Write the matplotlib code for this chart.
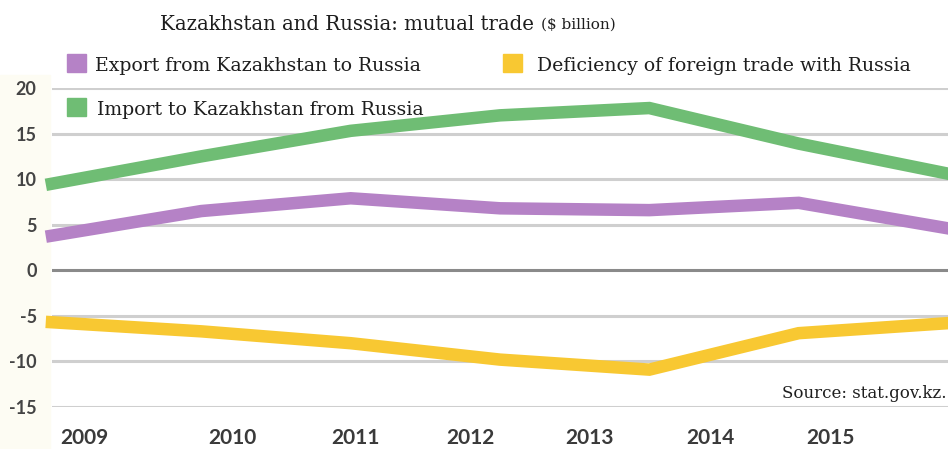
import matplotlib.pyplot as plt
from matplotlib.patches import Rectangle

# mutual trade, $ billion
years = ['2009', '2010', '2011', '2012', '2013', '2014', '2015']
export_to_russia = [3.8, 6.5, 7.9, 6.8, 6.6, 7.4, 4.6]
import_from_russia = [9.5, 12.5, 15.3, 17.0, 17.8, 13.9, 10.6]
trade_deficit = [-5.7, -6.7, -8.0, -9.8, -10.9, -6.9, -5.8]

# where the year labels sit along the x axis (data units)
label_pos = [0.22, 1.21, 2.03, 2.80, 3.60, 4.41, 5.21]

green = '#6fbd74'
purple = '#b582c6'
yellow = '#f8c832'

W, H = 948, 449
fig = plt.figure(figsize=(W / 100, H / 100), dpi=100)
fig.patch.set_facecolor('white')

# cream strip behind the y labels
fig.patches.append(Rectangle((0, 0), 50 / W, 1 - 75 / H, transform=fig.transFigure,
                             color='#fdfcf3', zorder=-5))

x0, x1 = 52, 948
ytop, ybot = 88, 407
ax = fig.add_axes([x0 / W, 1 - ybot / H, (x1 - x0) / W, (ybot - ytop) / H])
ax.set_zorder(2)
ax.set_facecolor('none')
ax.set_xlim(0, len(years) - 1)
ax.set_ylim(-15, 20)

for v in range(-15, 21, 5):
    c = '#8a8a8a' if v == 0 else '#cfcfcf'
    ax.axhline(v, color=c, lw=2.2, zorder=1)

xs = range(len(years))
lw = 9
ax.plot(xs, import_from_russia, color=green, lw=lw, solid_joinstyle='miter', clip_on=False, zorder=3)
ax.plot(xs, export_to_russia, color=purple, lw=lw, solid_joinstyle='miter', clip_on=False, zorder=3)
ax.plot(xs, trade_deficit, color=yellow, lw=lw, solid_joinstyle='miter', clip_on=False, zorder=3)

for s in ax.spines.values():
    s.set_visible(False)
ax.tick_params(length=0)
ax.set_yticks(range(-15, 21, 5))
ax.set_yticklabels([str(v) for v in range(-15, 21, 5)], fontsize=13,
                   fontfamily='Lato', fontweight='bold', color='#444444')
ax.tick_params(axis='y', pad=11)
ax.set_xticks(label_pos)
ax.set_xticklabels(years, fontsize=15, fontfamily='Lato', fontweight='bold', color='#3a3a3a')
ax.tick_params(axis='x', pad=15)

serif = 'DejaVu Serif'
fig.text(160 / W, 1 - 24 / H, 'Kazakhstan and Russia: mutual trade', fontsize=14.2,
         family=serif, color='#1e1e1e', va='center')
fig.text(541 / W, 1 - 25 / H, '($ billion)', fontsize=11, family=serif,
         color='#1e1e1e', va='center')

legend = [(67, 63, purple, 'Export from Kazakhstan to Russia', 95),
          (503, 63, yellow, 'Deficiency of foreign trade with Russia', 537),
          (67, 107, green, 'Import to Kazakhstan from Russia', 97)]
for sx, sy, col, txt, tx in legend:
    fig.patches.append(Rectangle((sx / W, 1 - (sy + 9) / H), 19 / W, 18 / H,
                                 transform=fig.transFigure, color=col, zorder=2))
    fig.text(tx / W, 1 - (sy + 3) / H, txt, fontsize=13.6, family=serif,
             color='#1e1e1e', va='center')

fig.text(947 / W, 1 - 393 / H, 'Source: stat.gov.kz.', fontsize=12, family=serif,
         color='#1e1e1e', ha='right', va='center')

fig.savefig('out.png', dpi=100)
